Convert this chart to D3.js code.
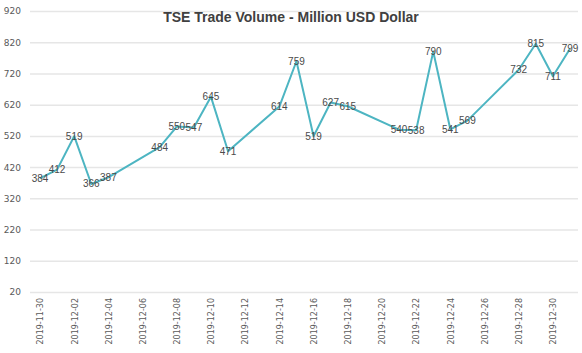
<!DOCTYPE html>
<html>
<head>
<meta charset="utf-8">
<script src="https://cdn.jsdelivr.net/npm/d3@7"></script>
<style>
  body { margin: 0; background: #fff; }
  svg { display: block; font-family: "Liberation Sans", Arial, sans-serif; }
</style>
</head>
<body>
<svg id="chart" width="582" height="353"></svg>
<script>
// ======================= DATA ===============================
const dates = [
  '2019-11-30', '2019-12-01', '2019-12-02', '2019-12-03', '2019-12-04',
  '2019-12-07', '2019-12-08', '2019-12-09', '2019-12-10', '2019-12-11',
  '2019-12-14', '2019-12-15', '2019-12-16', '2019-12-17', '2019-12-18',
  '2019-12-21', '2019-12-22', '2019-12-23', '2019-12-24', '2019-12-25',
  '2019-12-28', '2019-12-29', '2019-12-30', '2019-12-31'
];
const volumes = [
  384, 412, 519, 366, 387,
  484, 550, 547, 645, 471,
  614, 759, 519, 627, 615,
  540, 538, 790, 541, 569,
  732, 815, 711, 799
];
const yTicks = [20, 120, 220, 320, 420, 520, 620, 720, 820, 920];
const xTickLabels = [
  '2019-11-30', '2019-12-02', '2019-12-04', '2019-12-06', '2019-12-08',
  '2019-12-10', '2019-12-12', '2019-12-14', '2019-12-16', '2019-12-18',
  '2019-12-20', '2019-12-22', '2019-12-24', '2019-12-26', '2019-12-28',
  '2019-12-30'
];
const title = 'TSE Trade Volume - Million USD Dollar';

const parse = d3.timeParse('%Y-%m-%d');
const fmt = d3.timeFormat('%Y-%m-%d');
const dataset = dates.map((d, i) => ({ date: parse(d), value: volumes[i] }));

const svgElem = d3.select('#chart');
const plotLeft = 30, plotRight = 578;

// ======================= SCALES ===============================
const xScale = d3.scaleTime()
  .domain([parse('2019-11-30'), parse('2019-12-31')])
  .range([40, 570]);

const yScale = d3.scaleLinear()
  .domain([20, 920])
  .range([292, 11]);

// ======================= Y-AXIS + GRID ===============================
const yAxis = svgElem.append('g')
  .attr('transform', `translate(${plotLeft},0)`)
  .call(d3.axisLeft(yScale).tickValues(yTicks).tickSize(-(plotRight - plotLeft)).tickPadding(9));
yAxis.select('.domain').remove();
yAxis.selectAll('line').attr('stroke', '#e6e6e6').attr('stroke-width', 1.5);
yAxis.selectAll('text')
  .attr('fill', '#595959')
  .style('font-family', '"DejaVu Sans", Verdana, sans-serif')
  .style('font-size', '9px');

// ======================= X-AXIS ===============================
const xAxis = svgElem.append('g')
  .attr('transform', 'translate(0,292)')
  .call(d3.axisBottom(xScale).tickValues(xTickLabels.map(parse)).tickFormat(fmt).tickSize(0));
xAxis.select('.domain').remove();
xAxis.selectAll('text')
  .attr('transform', 'rotate(-90)')
  .attr('x', -6)
  .attr('y', 0)
  .attr('dy', '0.35em')
  .attr('text-anchor', 'end')
  .attr('fill', '#595959')
  .style('font-family', '"DejaVu Sans", Verdana, sans-serif')
  .style('font-size', '8px');

// ======================= LINE ===============================
const line = d3.line()
  .x(d => xScale(d.date))
  .y(d => yScale(d.value));

svgElem.append('path')
  .datum(dataset)
  .attr('d', line)
  .attr('fill', 'none')
  .attr('stroke', '#4db5c2')
  .attr('stroke-width', 2)
  .attr('stroke-linejoin', 'round');

// ======================= LABELS ===============================
svgElem.append('g')
  .selectAll('text')
  .data(dataset)
  .enter()
  .append('text')
  .attr('x', d => xScale(d.date))
  .attr('y', d => yScale(d.value))
  .attr('dy', '0.35em')
  .attr('text-anchor', 'middle')
  .attr('fill', '#4a4a4a')
  .style('font-size', '10px')
  .text(d => d.value);

// ======================= TITLE ===============================
svgElem.append('text')
  .attr('x', 291)
  .attr('y', 22)
  .attr('text-anchor', 'middle')
  .attr('fill', '#404040')
  .style('font-size', '14px')
  .style('font-weight', 'bold')
  .text(title);
</script>
</body>
</html>
